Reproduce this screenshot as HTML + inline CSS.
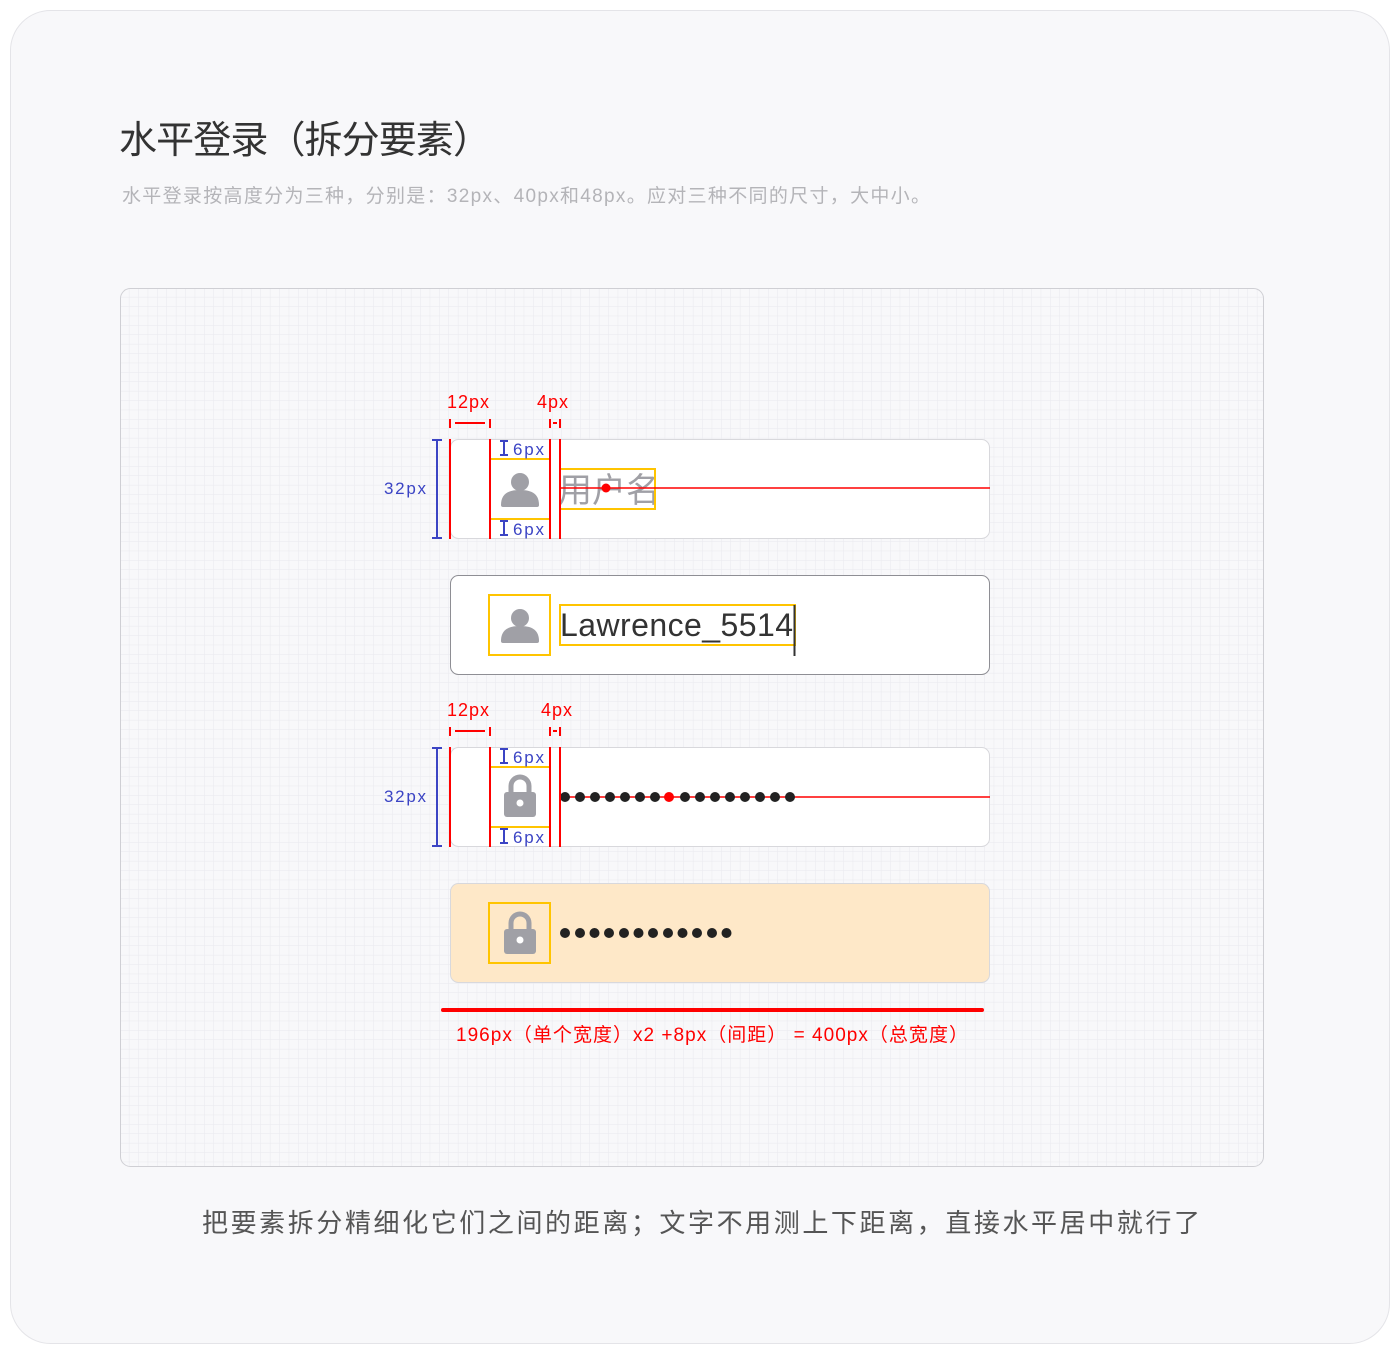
<!DOCTYPE html>
<html><head><meta charset="utf-8"><style>
html,body{margin:0;padding:0;background:#fff;}
body{width:1400px;height:1350px;position:relative;overflow:hidden;font-family:"Liberation Sans","Noto Sans CJK SC",sans-serif;}
</style></head><body>
<svg width="1400" height="1350" xmlns="http://www.w3.org/2000/svg" style="position:absolute;left:0;top:0" font-family="Liberation Sans, Noto Sans CJK SC, sans-serif">
<defs>
<pattern id="g" width="9.4" height="9.4" patternUnits="userSpaceOnUse" x="120" y="288">
<path d="M9.4 0V9.4M0 9.4H9.4" stroke="#e9e9ee" stroke-width="1" fill="none"/>
</pattern>
<g id="user"><circle cx="0" cy="-10" r="9" fill="#a0a0a6"/><path d="M-19 13 C-19 0 -9 -2 0 -2 C9 -2 19 0 19 13 Q19 15 17 15 L-17 15 Q-19 15 -19 13Z" fill="#a0a0a6"/></g>
<g id="lock"><path d="M-9 -4 V-11 A9 9 0 0 1 9 -11 V-4" stroke="#a0a0a6" stroke-width="5" fill="none"/><rect x="-16" y="-5" width="32" height="25" rx="3" fill="#a0a0a6"/><circle cx="0" cy="6" r="3.5" fill="#fff"/></g>
</defs>
<rect x="10.5" y="10.5" width="1379" height="1333" rx="40" fill="#f8f8fa" stroke="#e4e4e8"/>
<text x="119" y="153" font-size="38" fill="#333" textLength="372">水平登录（拆分要素）</text>
<text x="122" y="202" font-size="19" fill="#b4b4b8" textLength="808">水平登录按高度分为三种，分别是：32px、40px和48px。应对三种不同的尺寸，大中小。</text>
<rect x="120.5" y="288.5" width="1143" height="878" rx="10" fill="#f8f8fa" stroke="#cfcfd4"/>
<rect x="121" y="289" width="1142" height="877" rx="10" fill="url(#g)"/>

<!-- field 1 -->
<rect x="450.5" y="439.5" width="539" height="99" rx="8" fill="#fff" stroke="#d8d8dc"/>
<rect x="490" y="459" width="60" height="60" fill="none" stroke="#ffc400" stroke-width="2"/>
<use href="#user" x="520" y="492"/>
<text x="558" y="502" font-size="34" fill="#a0a0a6">用户名</text>
<rect x="560" y="469" width="95" height="40" fill="none" stroke="#ffc400" stroke-width="2"/>
<line x1="560" y1="488" x2="990" y2="488" stroke="#f00" stroke-width="1.5"/>
<circle cx="606" cy="488" r="4.5" fill="#f00"/>
<g stroke="#f00" stroke-width="2"><line x1="450" y1="439" x2="450" y2="539"/><line x1="490" y1="439" x2="490" y2="539"/><line x1="550" y1="439" x2="550" y2="539"/><line x1="560" y1="439" x2="560" y2="539"/>
<line x1="450" y1="419" x2="450" y2="428"/><line x1="455" y1="423" x2="485" y2="423"/><line x1="490" y1="419" x2="490" y2="428"/>
<line x1="550" y1="419" x2="550" y2="428"/><line x1="553" y1="423" x2="557" y2="423"/><line x1="560" y1="419" x2="560" y2="428"/></g>
<text x="447" y="408" font-size="18" fill="#f00" textLength="42">12px</text>
<text x="537" y="408" font-size="18" fill="#f00" textLength="31">4px</text>
<g stroke="#3b44c4" stroke-width="2"><line x1="437" y1="440" x2="437" y2="538"/><line x1="432" y1="440" x2="442" y2="440"/><line x1="432" y1="538" x2="442" y2="538"/>
<line x1="504" y1="441" x2="504" y2="455"/><line x1="500" y1="441" x2="508" y2="441"/><line x1="500" y1="455" x2="508" y2="455"/>
<line x1="504" y1="521" x2="504" y2="535"/><line x1="500" y1="521" x2="508" y2="521"/><line x1="500" y1="535" x2="508" y2="535"/></g>
<text x="384" y="494" font-size="17" fill="#3b44c4" textLength="42">32px</text>
<text x="513" y="455" font-size="17" fill="#3b44c4" textLength="31">6px</text>
<text x="513" y="535" font-size="17" fill="#3b44c4" textLength="31">6px</text>

<!-- field 2 -->
<rect x="450.5" y="575.5" width="539" height="99" rx="8" fill="#fff" stroke="#8e8e94"/>
<rect x="489" y="595" width="61" height="60" fill="none" stroke="#ffc400" stroke-width="2"/>
<use href="#user" x="520" y="628"/>
<text x="560" y="636" font-size="32" fill="#333" textLength="233">Lawrence_5514</text>
<rect x="560" y="605" width="235" height="40" fill="none" stroke="#ffc400" stroke-width="2"/>
<line x1="794.5" y1="605" x2="794.5" y2="656" stroke="#333" stroke-width="2"/>

<!-- field 3 -->
<rect x="450.5" y="747.5" width="539" height="99" rx="8" fill="#fff" stroke="#d8d8dc"/>
<rect x="490" y="767" width="60" height="60" fill="none" stroke="#ffc400" stroke-width="2"/>
<use href="#lock" x="520" y="797"/>
<line x1="560" y1="797" x2="990" y2="797" stroke="#f00" stroke-width="1.5"/>
<g fill="#222"><circle cx="565" cy="797" r="5"/><circle cx="580" cy="797" r="5"/><circle cx="595" cy="797" r="5"/><circle cx="610" cy="797" r="5"/><circle cx="625" cy="797" r="5"/><circle cx="640" cy="797" r="5"/><circle cx="655" cy="797" r="5"/><circle cx="685" cy="797" r="5"/><circle cx="700" cy="797" r="5"/><circle cx="715" cy="797" r="5"/><circle cx="730" cy="797" r="5"/><circle cx="745" cy="797" r="5"/><circle cx="760" cy="797" r="5"/><circle cx="775" cy="797" r="5"/><circle cx="790" cy="797" r="5"/></g>
<circle cx="669" cy="797" r="5" fill="#f00"/>
<g stroke="#f00" stroke-width="2"><line x1="450" y1="747" x2="450" y2="847"/><line x1="490" y1="747" x2="490" y2="847"/><line x1="550" y1="747" x2="550" y2="847"/><line x1="560" y1="747" x2="560" y2="847"/>
<line x1="450" y1="727" x2="450" y2="736"/><line x1="455" y1="731" x2="485" y2="731"/><line x1="490" y1="727" x2="490" y2="736"/>
<line x1="550" y1="727" x2="550" y2="736"/><line x1="553" y1="731" x2="557" y2="731"/><line x1="560" y1="727" x2="560" y2="736"/></g>
<text x="447" y="716" font-size="18" fill="#f00" textLength="42">12px</text>
<text x="541" y="716" font-size="18" fill="#f00" textLength="31">4px</text>
<g stroke="#3b44c4" stroke-width="2"><line x1="437" y1="748" x2="437" y2="846"/><line x1="432" y1="748" x2="442" y2="748"/><line x1="432" y1="846" x2="442" y2="846"/>
<line x1="504" y1="749" x2="504" y2="763"/><line x1="500" y1="749" x2="508" y2="749"/><line x1="500" y1="763" x2="508" y2="763"/>
<line x1="504" y1="829" x2="504" y2="843"/><line x1="500" y1="829" x2="508" y2="829"/><line x1="500" y1="843" x2="508" y2="843"/></g>
<text x="384" y="802" font-size="17" fill="#3b44c4" textLength="42">32px</text>
<text x="513" y="763" font-size="17" fill="#3b44c4" textLength="31">6px</text>
<text x="513" y="843" font-size="17" fill="#3b44c4" textLength="31">6px</text>

<!-- field 4 -->
<rect x="450.5" y="883.5" width="539" height="99" rx="8" fill="#fee8c8" stroke="#d8d8dc"/>
<rect x="489" y="903" width="61" height="60" fill="none" stroke="#ffc400" stroke-width="2"/>
<use href="#lock" x="520" y="934"/>
<g fill="#222"><circle cx="565" cy="933" r="5"/><circle cx="580" cy="933" r="5"/><circle cx="594.5" cy="933" r="5"/><circle cx="609" cy="933" r="5"/><circle cx="624" cy="933" r="5"/><circle cx="638.5" cy="933" r="5"/><circle cx="653" cy="933" r="5"/><circle cx="668" cy="933" r="5"/><circle cx="682.5" cy="933" r="5"/><circle cx="697" cy="933" r="5"/><circle cx="712" cy="933" r="5"/><circle cx="726.5" cy="933" r="5"/></g>
<line x1="443" y1="1010" x2="982" y2="1010" stroke="#f00" stroke-width="4" stroke-linecap="round"/>
<text x="456" y="1041" font-size="19" fill="#f00" textLength="512">196px（单个宽度）x2 +8px（间距） = 400px（总宽度）</text>

<text x="202" y="1232" font-size="26" fill="#555" textLength="998">把要素拆分精细化它们之间的距离；文字不用测上下距离，直接水平居中就行了</text>
</svg>
</body></html>
